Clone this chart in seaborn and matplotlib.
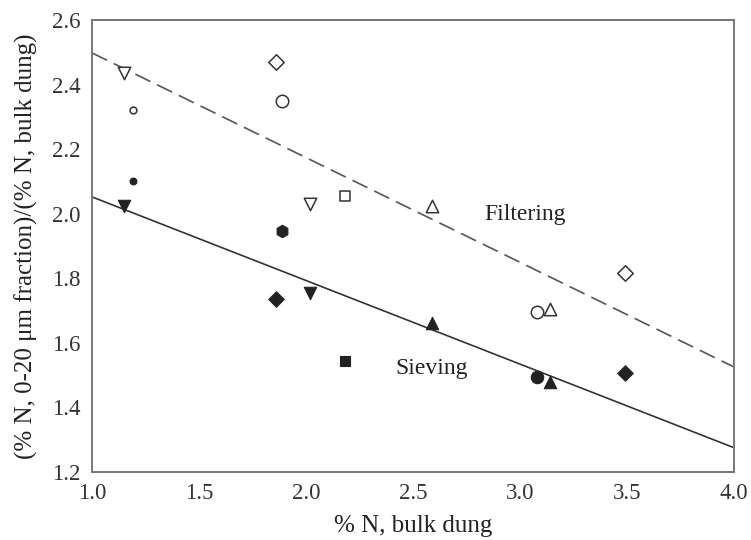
import numpy as np
import pandas as pd
import seaborn as sns
import matplotlib.pyplot as plt

sns.set_theme(style="white")
plt.rcParams['font.family'] = ['Liberation Serif', 'DejaVu Serif']
plt.rcParams['mathtext.fontset'] = 'stix'

# data
n_bulk = [1.15, 1.19, 1.86, 1.89, 2.02, 2.18, 2.59, 3.08, 3.14, 3.49]
markers = ['v', 'o', 'D', 'o', 'v', 's', '^', 'o', '^', 'D']
sizes = [80, 24, 62, 80, 80, 62, 80, 80, 80, 62]
filtering = [2.435, 2.32, 2.47, 2.35, 2.03, 2.055, 2.025, 1.695, 1.705, 1.815]
sieving = [2.025, 2.10, 1.735, 1.945, 1.755, 1.545, 1.66, 1.495, 1.48, 1.505]
sieve_markers = ['v', 'o', 'D', 'h', 'v', 's', '^', 'o', '^', 'D']

fit_x = [1.0, 4.0]
filtering_fit = [2.498, 1.525]
sieving_fit = [2.052, 1.275]

fig = plt.figure(figsize=(7.51, 5.40), dpi=100)
ax = fig.add_axes([0.1225, 0.126, 0.855, 0.837])

edge = '#333333'
for x, y, m, s in zip(n_bulk, filtering, markers, sizes):
    sns.scatterplot(x=[x], y=[y], marker=m, s=s, facecolor='white',
                    edgecolor=edge, linewidth=1.1, ax=ax, zorder=3)
for x, y, m, s in zip(n_bulk, sieving, sieve_markers, sizes):
    sns.scatterplot(x=[x], y=[y], marker=m, s=s, color='#222222',
                    edgecolor='#222222', linewidth=0.8, ax=ax, zorder=3)

fits = pd.DataFrame({'x': fit_x, 'filt': filtering_fit, 'siev': sieving_fit})
sns.lineplot(data=fits, x='x', y='filt', color='#555555', lw=1.2,
             ax=ax).lines[-1].set_dashes([10, 4.5])
sns.lineplot(data=fits, x='x', y='siev', color='#333333', lw=1.2, ax=ax)

ax.text(3.023, 1.996, 'Filtering', fontsize=17, ha='center', va='center', color='#222222')
ax.text(2.589, 1.522, 'Sieving', fontsize=17, ha='center', va='center', color='#222222')

ax.set_xlim(1.0, 4.0)
ax.set_ylim(1.2, 2.6)
ax.set_xticks(np.arange(1.0, 4.01, 0.5))
ax.set_yticks(np.arange(1.2, 2.61, 0.2))
ax.set_xticklabels([f'{v:.1f}' for v in np.arange(1.0, 4.01, 0.5)])
ax.set_yticklabels([f'{v:.1f}' for v in np.arange(1.2, 2.61, 0.2)])
ax.tick_params(axis='both', direction='in', length=5, width=1.2, labelsize=16.5,
               colors='#333333', pad=8)
for sp in ax.spines.values():
    sp.set_color('#777777')
    sp.set_linewidth(1.4)

ax.set_xlabel('% N, bulk dung', fontsize=18, color='#222222', labelpad=8)
ax.set_ylabel('(% N, 0-20 μm fraction)/(% N, bulk dung)', fontsize=18,
              color='#222222', labelpad=10)

plt.savefig('out.png', dpi=100)
